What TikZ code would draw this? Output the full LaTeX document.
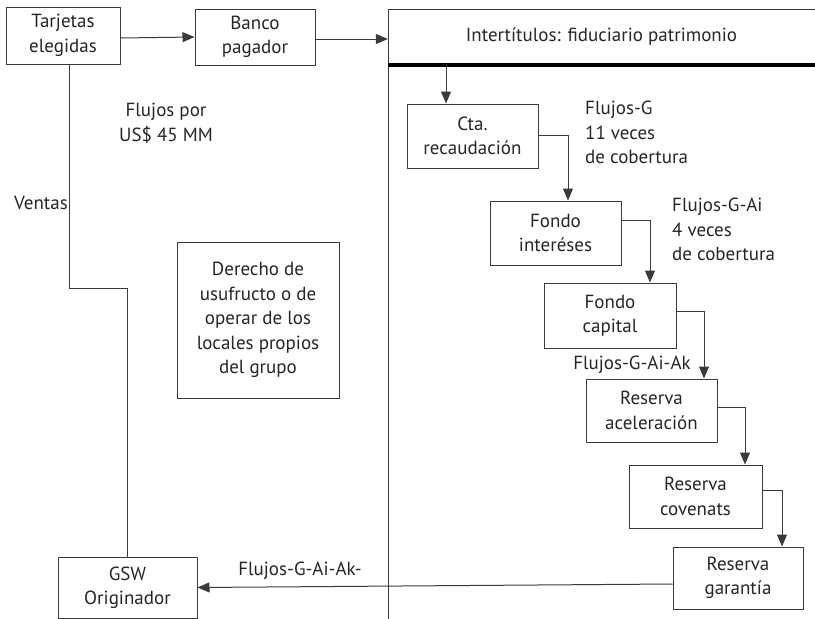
\documentclass[tikz,border=0pt]{standalone}
\usepackage{fontspec}
\setmainfont{PT Sans}
\usetikzlibrary{arrows.meta,calc}
\definecolor{ink}{HTML}{262626}
\definecolor{wire}{HTML}{3A3A3A}
\begin{document}
\begin{tikzpicture}[x=1pt,y=-1pt,
  every node/.style={text=ink,font=\fontsize{19}{24.5}\selectfont,inner sep=0pt},
  box/.style={draw=wire,line width=1pt,align=center,fill=white},
  flow/.style={draw=wire,line width=1pt,-{Triangle[length=12pt,width=10pt]}},
  plain/.style={draw=wire,line width=1pt},
  note/.style={align=left}]
\useasboundingbox (0,0) rectangle (815,619);

% left-hand boxes
\node[box,minimum width=114pt,minimum height=57pt] (tarj) at (63,35.5) {Tarjetas\\elegidas};
\node[box,minimum width=120pt,minimum height=56pt] (banco) at (255,37) {Banco\\pagador};
\node[box,minimum width=162pt,minimum height=156pt] (derecho) at (258,320)
  {Derecho de\\usufructo o de\\operar de los\\locales propios\\del grupo};
\node[box,minimum width=139pt,minimum height=61pt] (gsw) at (127.5,587.5) {GSW\\Originador};

% trust panel: open frame with heavy rule under the title
\node[minimum width=427pt,minimum height=56pt] (trust) at (601.5,37) {Intertítulos: fiduciario patrimonio};
\draw[plain] (815,9) -- (388,9) -- (388,619);
\draw[line width=4pt,black] (388,65) -- (815,65);

% waterfall of accounts
\node[box,minimum width=131pt,minimum height=64pt] (cta) at (472.5,136) {Cta.\\recaudación};
\node[box,minimum width=131pt,minimum height=64pt] (int) at (555.5,233) {Fondo\\interéses};
\node[box,minimum width=132pt,minimum height=65pt] (cap) at (610,315.5) {Fondo\\capital};
\node[box,minimum width=131pt,minimum height=63pt] (acel) at (651.5,410.5) {Reserva\\aceleración};
\node[box,minimum width=133pt,minimum height=63pt] (cov) at (695.5,496.5) {Reserva\\covenats};
\node[box,minimum width=130pt,minimum height=62pt] (gar) at (738,578) {Reserva\\garantía};

% labels
\node[align=center] (flujos) at (166,123) {Flujos por\\US\$ 45 MM};
\node[anchor=east] (ventas) at (68,203) {Ventas};
\node[note,anchor=north west] (fg) at (585,101) {Flujos-G\\11 veces\\de cobertura};
\node[note,anchor=north west] (fgai) at (672,198) {Flujos-G-Ai\\4 veces\\de cobertura};
\node (fgaiak) at (632,365) {Flujos-G-Ai-Ak};
\node (fgaiakret) at (300,571) {Flujos-G-Ai-Ak-};

% connectors
\draw[flow] ([yshift=-2.5pt]tarj.east) -- (banco.west);
\draw[flow] ([yshift=-2pt]banco.east) -- ([yshift=-2pt]banco.east -| trust.west);
\coordinate (drop) at ([xshift=-26.5pt]cta.north |- trust.south);
\draw[flow] (drop) -- ([xshift=-26.5pt]cta.north);
\draw[flow] ([yshift=1pt]cta.east) -| ([xshift=12.5pt]int.north);
\draw[flow] ([yshift=13pt]int.east) -| ([xshift=40pt]cap.north);
\draw[flow] ([yshift=4.5pt]cap.east) -| ([xshift=52.5pt]acel.north);
\draw[flow] ([yshift=3.5pt]acel.east) -| ([xshift=49.5pt]cov.north);
\draw[flow] ([yshift=6.5pt]cov.east) -| ([xshift=44pt]gar.north);
\draw[flow] ([yshift=-6pt]gar.west) -- (gsw.east);
\coordinate (bend) at ([xshift=6pt]tarj.south |- 0,288);
\draw[plain] ([xshift=6pt]tarj.south) -- (bend) -| (gsw.north);
\end{tikzpicture}
\end{document}
